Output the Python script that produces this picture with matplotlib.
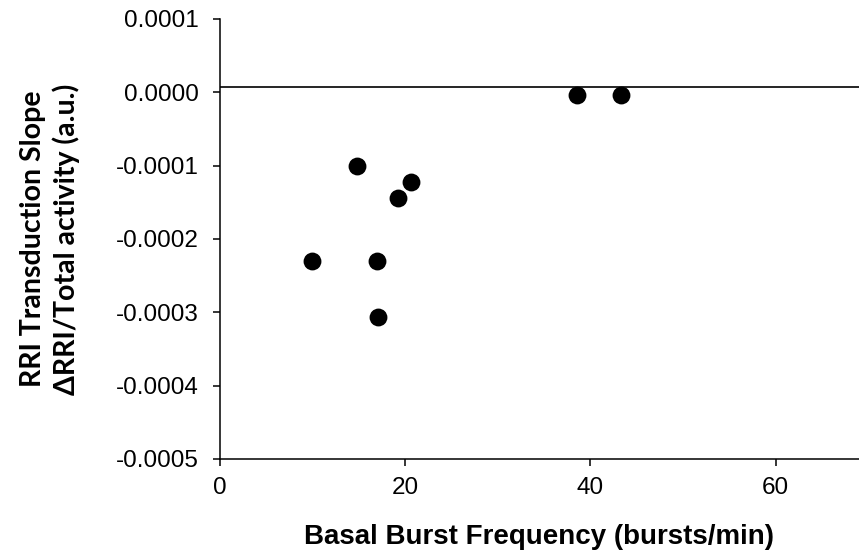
import matplotlib.pyplot as plt

# Basal burst frequency (bursts/min) vs RRI transduction slope
burst_freq = [38.6, 43.3, 14.8, 20.6, 19.2, 9.9, 16.9, 17.1]
rri_slope = [-0.0000041, -0.0000040, -0.000101, -0.000122, -0.000144,
             -0.000230, -0.000230, -0.000307]
zero_line = 0.0000068  # reference line, drawn a touch above 0 in the original

x_ticks = [0, 20, 40, 60]
y_ticks = [0.0001, 0.0, -0.0001, -0.0002, -0.0003, -0.0004, -0.0005]
y_labels = ['0.0001', '0.0000', '-0.0001', '-0.0002', '-0.0003', '-0.0004', '-0.0005']

plt.rcParams['font.family'] = ['Liberation Sans', 'DejaVu Sans']

fig = plt.figure(figsize=(8.59, 5.57), dpi=100)
ax = fig.add_axes([0.2561, 0.176, 0.7439, 0.7899])

ax.axhline(zero_line, color='black', lw=1.2, zorder=1)
ax.scatter(burst_freq, rri_slope, s=165, color='black', zorder=3, linewidths=0)

ax.set_xlim(0, 69)
ax.set_ylim(-0.0005, 0.0001)
ax.set_xticks(x_ticks)
ax.set_yticks(y_ticks)
ax.set_yticklabels(y_labels)

for side in ['top', 'right']:
    ax.spines[side].set_visible(False)
for side in ['left', 'bottom']:
    ax.spines[side].set_linewidth(1.1)
    ax.spines[side].set_color('black')

ax.tick_params(axis='both', direction='out', length=5, width=1.1, labelsize=17.5)
ax.tick_params(axis='y', pad=10)
ax.tick_params(axis='x', pad=8)

ax.set_xlabel('Basal Burst Frequency (bursts/min)', fontsize=20,
              fontweight='bold', labelpad=18)
ax.set_ylabel('RRI Transduction Slope\n\u0394RRI/Total activity (a.u.)',
              fontsize=20.5, fontweight='bold', family=['Lato', 'DejaVu Sans'],
              labelpad=26, linespacing=1.3)

fig.savefig('out.png', dpi=100)
